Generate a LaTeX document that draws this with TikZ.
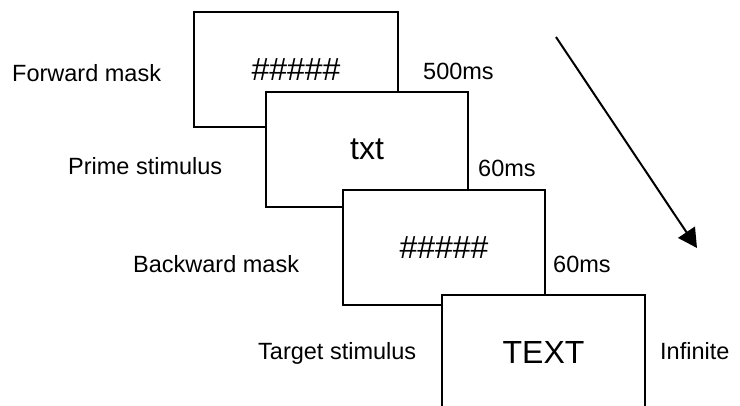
\documentclass[tikz,border=0pt]{standalone}
\usepackage{fontspec}
\setmainfont{Liberation Sans}
\usetikzlibrary{arrows.meta}
\begin{document}
\begin{tikzpicture}[x=1pt,y=-1pt,
  frame/.style={draw=black, line width=2pt, fill=white, inner sep=0pt,
    minimum height=115pt, font=\fontsize{32}{36}\selectfont},
  lbl/.style={anchor=base west, inner sep=0pt, font=\fontsize{23.5}{28}\selectfont}]
\useasboundingbox (0,0) rectangle (740,406);
\clip (0,0) rectangle (740,406);
% boxes
\node[frame, minimum width=204pt] (b1) at (296,69.5) {\#\#\#\#\#};
\node[frame, minimum width=202pt] (b2) at (367,149.5) {txt};
\node[frame, minimum width=202pt] (b3) at (444,247.5) {\#\#\#\#\#};
\node[frame, minimum width=203pt] (b4) at (543.5,352.5) {TEXT};
% left labels
\node[lbl] (l1) at (12,82) {Forward mask};
\node[lbl] (l2) at (68,175) {Prime stimulus};
\node[lbl] (l3) at (133,273) {Backward mask};
\node[lbl] (l4) at (258,360) {Target stimulus};
% durations
\node[lbl] (d1) at (423,80) {500ms};
\node[lbl] (d2) at (478,177) {60ms};
\node[lbl] (d3) at (553,273) {60ms};
\node[lbl] (d4) at (660,360) {Infinite};
% time arrow
\coordinate (a1) at (556,37);
\coordinate (a2) at (697,248);
\draw[line width=2pt, -{Triangle[length=19pt,width=20pt]}] (a1) -- (a2);
\end{tikzpicture}
\end{document}
